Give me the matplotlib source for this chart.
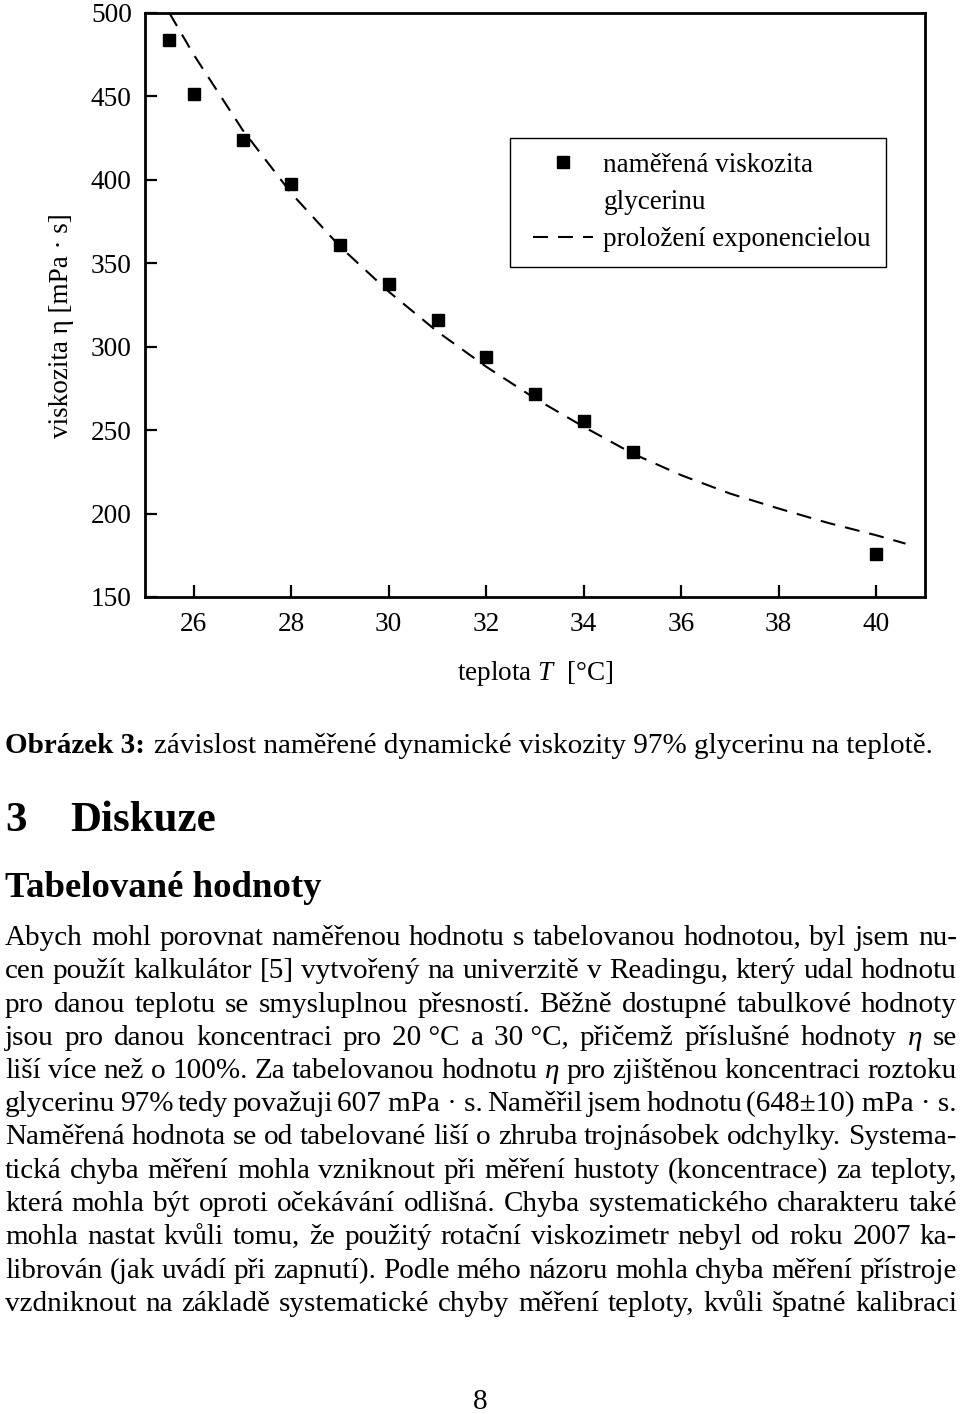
import matplotlib
matplotlib.use("Agg")
import matplotlib.pyplot as plt
from matplotlib.lines import Line2D
from matplotlib.legend_handler import HandlerLine2D
from matplotlib.transforms import IdentityTransform

plt.rcParams['font.family'] = ['Liberation Serif', 'DejaVu Serif']
plt.rcParams['mathtext.fontset'] = 'custom'
plt.rcParams['mathtext.rm'] = 'Liberation Serif'
plt.rcParams['mathtext.it'] = 'Liberation Serif:italic'
plt.rcParams['text.hinting'] = 'native'

# measured viscosity of glycerin vs temperature
teplota = [25.5, 26, 27, 28, 29, 30, 31, 32, 33, 34, 35, 40]
viskozita = [484, 451.6, 423.8, 397.4, 361, 337.6, 316, 293.6, 271.8, 255.6, 237.2, 175.6]

# exponential fit
fit_t = [25.5, 26, 27, 28, 29, 30, 31, 32, 33, 34, 35, 36, 37, 38, 39, 40, 40.6]
fit_eta = [500, 475, 430, 392, 360, 333, 309, 288, 269, 252, 236, 223, 212, 203, 194.5, 187, 182]

x_ticks = [26, 28, 30, 32, 34, 36, 38, 40]
y_ticks = [150, 200, 250, 300, 350, 400, 450, 500]

legend_labels = ["naměřená viskozita", "glycerinu", "proložení exponencielou"]
caption_bold = "Obrázek 3:"
caption_text = "závislost naměřené dynamické viskozity 97% glycerinu na teplotě."
section = ["3", "Diskuze"]
subsection = "Tabelované hodnoty"
paragraph = [
    "Abych mohl porovnat naměřenou hodnotu s tabelovanou hodnotou, byl jsem nu-",
    "cen použít kalkulátor [5] vytvořený na univerzitě v Readingu, který udal hodnotu",
    "pro danou teplotu se smysluplnou přesností. Běžně dostupné tabulkové hodnoty",
    "jsou pro danou koncentraci pro 20\u00a0°C a 30\u00a0°C, přičemž příslušné hodnoty $\\eta$ se",
    "liší více než o 100%. Za tabelovanou hodnotu $\\eta$ pro zjištěnou koncentraci roztoku",
    "glycerinu 97% tedy považuji 607\u00a0mPa\u00a0·\u00a0s. Naměřil jsem hodnotu (648±10)\u00a0mPa\u00a0·\u00a0s.",
    "Naměřená hodnota se od tabelované liší o zhruba trojnásobek odchylky. Systema-",
    "tická chyba měření mohla vzniknout při měření hustoty (koncentrace) za teploty,",
    "která mohla být oproti očekávání odlišná. Chyba systematického charakteru také",
    "mohla nastat kvůli tomu, že použitý rotační viskozimetr nebyl od roku 2007 ka-",
    "librován (jak uvádí při zapnutí). Podle mého názoru mohla chyba měření přístroje",
    "vzdniknout na základě systematické chyby měření teploty, kvůli špatné kalibraci",
]
page_no = "8"

W, H = 960, 1414
fig = plt.figure(figsize=(W / 100, H / 100), dpi=100)
fig.patch.set_facecolor('white')

ax = fig.add_axes([145 / W, 1 - 597 / H, 780 / W, 584 / H])
fit_line, = ax.plot(fit_t, fit_eta, color='black', lw=1.5, linestyle=(0, (7.2, 4.8)))
pts, = ax.plot(teplota, viskozita, 's', color='black', ms=8.3, linestyle='none')
ax.set_xlim(25, 41)
ax.set_ylim(150, 500)
ax.set_xticks(x_ticks)
ax.set_yticks(y_ticks)
ax.tick_params(direction='in', length=8.5, width=1.6, labelsize=19.5, top=False, right=False)
ax.tick_params(axis='x', pad=11)
ax.tick_params(axis='y', pad=9.5)
for s in ax.spines.values():
    s.set_linewidth(2)
ax.set_xlabel("teplota $T$  [°C]", fontsize=19.5, labelpad=16)

blank = Line2D([], [], linestyle='none', marker=None)
leg = ax.legend([pts, blank, fit_line], legend_labels,
                loc='upper left', bbox_to_anchor=(0.468, 0.786), borderaxespad=0,
                fontsize=19.5, fancybox=False, framealpha=1, edgecolor='black',
                handlelength=2.5, handletextpad=0.4, borderpad=0.55, labelspacing=0.45,
                handler_map={Line2D: HandlerLine2D(xpad=0.3)})
leg.get_frame().set_linewidth(1.0)

ident = IdentityTransform()


def px(x, y):
    return x, H - y


fig.text(*px(62, 326), "viskozita η [mPa · s]", rotation=90, ha='center', va='center',
         fontsize=19.5, transform=ident)

renderer = fig.canvas.get_renderer()
body_fs = 21

# caption
t = fig.text(*px(5, 753), caption_bold, fontsize=body_fs, fontweight='bold', transform=ident,
             va='baseline')
wb = t.get_window_extent(renderer).width
fig.text(*px(5 + wb + 9, 753), caption_text, fontsize=body_fs, transform=ident, va='baseline')

# headings
fig.text(*px(5, 831), section[0], fontsize=31, fontweight='bold', transform=ident, va='baseline')
fig.text(*px(70, 831), section[1], fontsize=31, fontweight='bold', transform=ident, va='baseline')
fig.text(*px(5, 897), subsection, fontsize=26.5, fontweight='bold', transform=ident, va='baseline')

# justified paragraph
left, right = 5, 957
y0, dy = 945, 33.25
for i, line in enumerate(paragraph):
    words = line.split(' ')
    fs = body_fs
    while True:
        texts = [fig.text(0, 0, w, fontsize=fs, transform=ident, va='baseline') for w in words]
        widths = [tt.get_window_extent(renderer).width for tt in texts]
        gap = (right - left - sum(widths)) / (len(words) - 1)
        if gap >= 4 or fs < 15:
            break
        for tt in texts:
            tt.remove()
        fs -= 0.5
    x = left
    yb = round(y0 + i * dy)
    for tt, w in zip(texts, widths):
        tt.set_position(px(x, yb))
        x += w + gap

fig.text(*px(480, 1409), page_no, fontsize=body_fs, ha='center', transform=ident, va='baseline')

fig.savefig('out.png', dpi=100)
